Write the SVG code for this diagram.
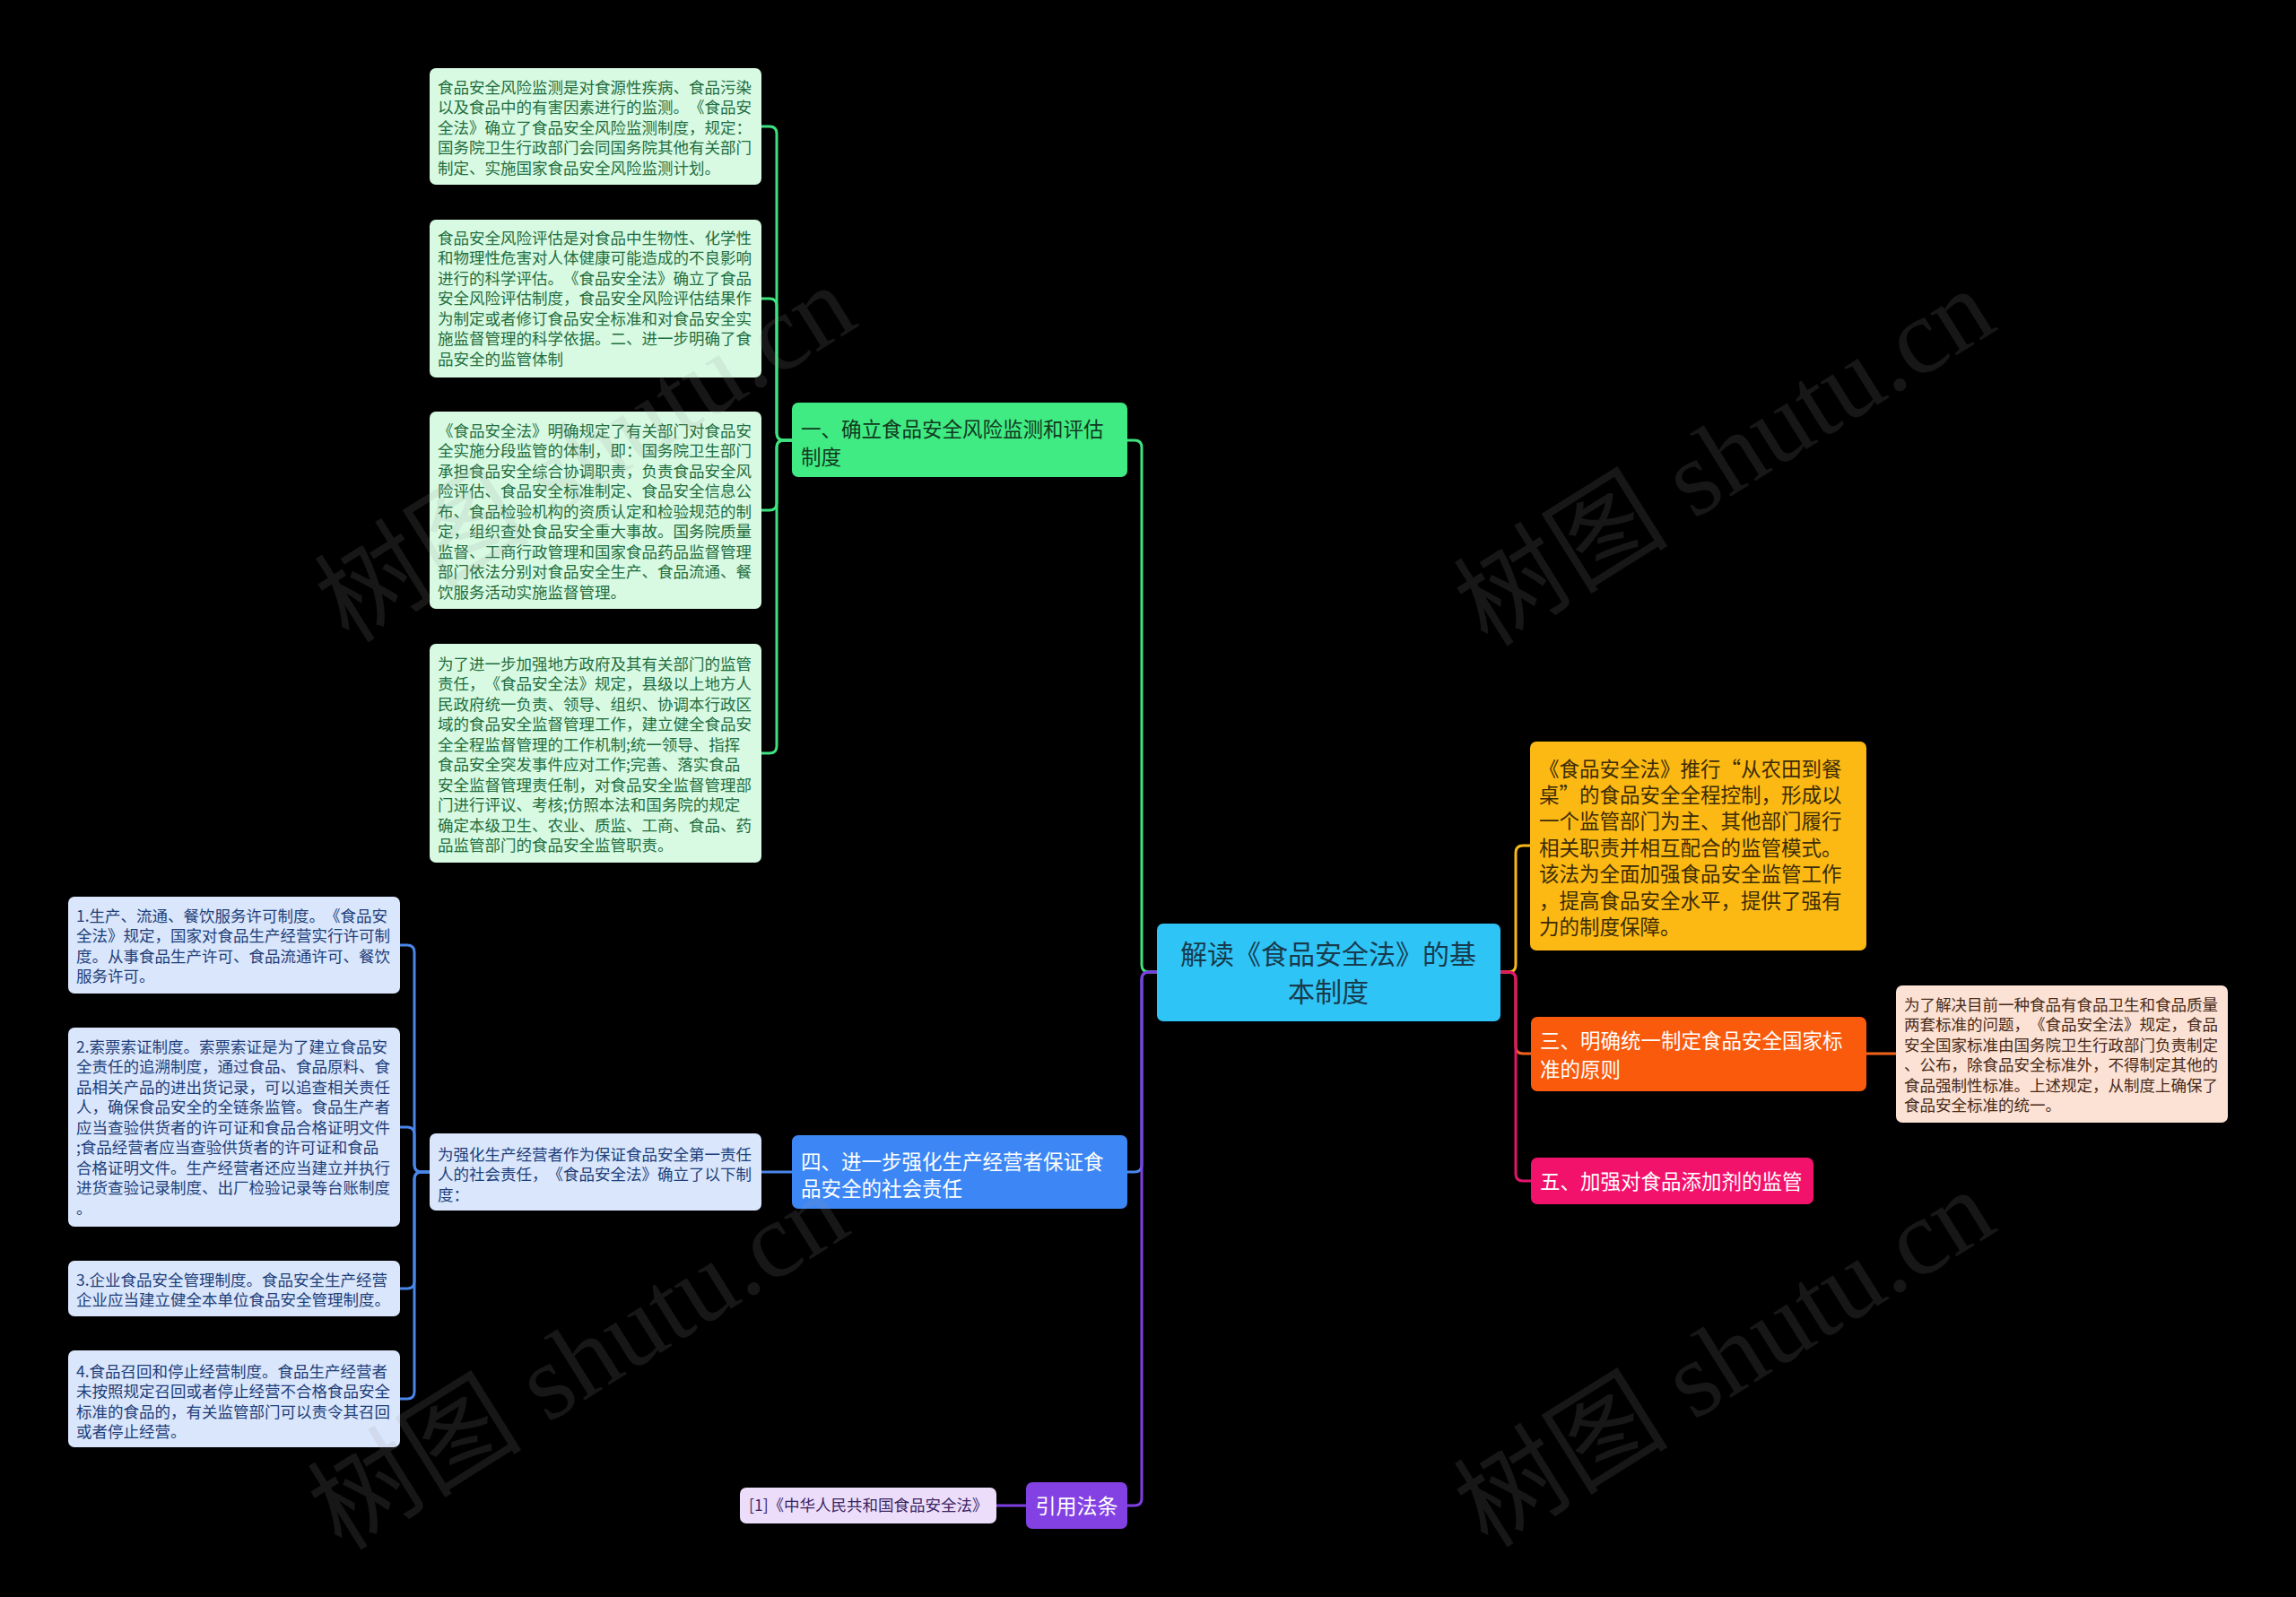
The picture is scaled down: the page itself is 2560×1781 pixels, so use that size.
<svg xmlns="http://www.w3.org/2000/svg" width="2560" height="1781" viewBox="0 0 2560 1781">
<style>
text{font-family:"Noto Sans CJK SC","Liberation Sans",sans-serif;dominant-baseline:central;text-spacing-trim:space-all}
.nt{transform:translate(0px,-1.5px)}
.s{font-size:17.5px}
.l1{font-size:22.5px}
.root{font-size:30px;fill:#173B4D}
.wm{font-family:"Liberation Serif","Noto Sans CJK SC",serif;font-size:120px;fill:#9a9a9a;opacity:0.15;text-anchor:middle}
.c{fill:none;stroke-width:3;stroke-linecap:round}
.cg{stroke:#3EE380}.cb{stroke:#4A86E8}.cp{stroke:#7E3FE0}.cy{stroke:#F7B918}.co{stroke:#F2631C}.ck{stroke:#E2156C}
.gbox{fill:#D8FAE3}.gt{fill:#1F6E3E}
.bbox{fill:#DAE6FB}.bt{fill:#1D3E7A}
</style>
<rect width="2560" height="1781" fill="#000"/>
<g id="connectors">
<path class="c cg" d="M1290,1084 H1281 Q1273,1084 1273,1076 V499 Q1273,491 1265,491 H1257"/>
<path class="c cb" d="M1290,1084 H1281 Q1273,1084 1273,1092 V1299 Q1273,1307 1265,1307 H1257"/>
<path class="c cp" d="M1290,1084 H1281 Q1273,1084 1273,1092 V1671 Q1273,1679 1265,1679 H1257"/>
<path class="c cy" d="M1673,1084 H1682 Q1690,1084 1690,1076 V951 Q1690,943 1698,943 H1706"/>
<path class="c co" d="M1673,1084 H1682 Q1690,1084 1690,1092 V1167 Q1690,1175 1698,1175 H1707"/>
<path class="c ck" d="M1673,1084 H1682 Q1690,1084 1690,1092 V1309 Q1690,1317 1698,1317 H1707"/>
<path class="c cg" d="M883,491 H874 Q866,491 866,483 V149 Q866,141 858,141 H849"/>
<path class="c cg" d="M883,491 H874 Q866,491 866,483 V341 Q866,333 858,333 H849"/>
<path class="c cg" d="M883,491 H874 Q866,491 866,499 V561 Q866,569 858,569 H849"/>
<path class="c cg" d="M883,491 H874 Q866,491 866,499 V832 Q866,840 858,840 H849"/>
<path class="c cb" d="M883,1307 H849"/>
<path class="c cb" d="M479,1307 H470 Q462,1307 462,1299 V1062 Q462,1054 454,1054 H446"/>
<path class="c cb" d="M479,1307 H470 Q462,1307 462,1299 V1265 Q462,1257 454,1257 H446"/>
<path class="c cb" d="M479,1307 H470 Q462,1307 462,1315 V1429 Q462,1437 454,1437 H446"/>
<path class="c cb" d="M479,1307 H470 Q462,1307 462,1315 V1552 Q462,1560 454,1560 H446"/>
<path class="c co" d="M2081,1175 H2114"/>
<path class="c cp" d="M1144,1679 H1111"/>
</g>
<g id="root">
<rect x="1290" y="1030" width="383" height="109" rx="7" fill="#2FC4F6"/>
<text class="root nt" text-anchor="middle"><tspan x="1481" y="1063">解读《食品安全法》的基</tspan><tspan x="1481" y="1105">本制度</tspan></text>
</g>
<g id="n1">
<rect x="883" y="449" width="374" height="83" rx="7" fill="#3FEB82"/>
<text class="l1 nt" fill="#12391F"><tspan x="893" y="478">一、确立食品安全风险监测和评估</tspan><tspan x="893" y="509">制度</tspan></text>
</g>
<g id="n1a">
<rect class="gbox" x="479" y="76" width="370" height="130" rx="7"/>
<text class="s gt nt"><tspan x="488" y="97">食品安全风险监测是对食源性疾病、食品污染</tspan><tspan x="488" dy="22.5">以及食品中的有害因素进行的监测。《食品安</tspan><tspan x="488" dy="22.5">全法》确立了食品安全风险监测制度，规定：</tspan><tspan x="488" dy="22.5">国务院卫生行政部门会同国务院其他有关部门</tspan><tspan x="488" dy="22.5">制定、实施国家食品安全风险监测计划。</tspan></text>
</g>
<g id="n1b">
<rect class="gbox" x="479" y="245" width="370" height="176" rx="7"/>
<text class="s gt nt"><tspan x="488" y="265">食品安全风险评估是对食品中生物性、化学性</tspan><tspan x="488" dy="22.5">和物理性危害对人体健康可能造成的不良影响</tspan><tspan x="488" dy="22.5">进行的科学评估。《食品安全法》确立了食品</tspan><tspan x="488" dy="22.5">安全风险评估制度，食品安全风险评估结果作</tspan><tspan x="488" dy="22.5">为制定或者修订食品安全标准和对食品安全实</tspan><tspan x="488" dy="22.5">施监督管理的科学依据。二、进一步明确了食</tspan><tspan x="488" dy="22.5">品安全的监管体制</tspan></text>
</g>
<g id="n1c">
<rect class="gbox" x="479" y="459" width="370" height="220" rx="7"/>
<text class="s gt nt"><tspan x="488" y="480">《食品安全法》明确规定了有关部门对食品安</tspan><tspan x="488" dy="22.5">全实施分段监管的体制，即：国务院卫生部门</tspan><tspan x="488" dy="22.5">承担食品安全综合协调职责，负责食品安全风</tspan><tspan x="488" dy="22.5">险评估、食品安全标准制定、食品安全信息公</tspan><tspan x="488" dy="22.5">布、食品检验机构的资质认定和检验规范的制</tspan><tspan x="488" dy="22.5">定，组织查处食品安全重大事故。国务院质量</tspan><tspan x="488" dy="22.5">监督、工商行政管理和国家食品药品监督管理</tspan><tspan x="488" dy="22.5">部门依法分别对食品安全生产、食品流通、餐</tspan><tspan x="488" dy="22.5">饮服务活动实施监督管理。</tspan></text>
</g>
<g id="n1d">
<rect class="gbox" x="479" y="718" width="370" height="244" rx="7"/>
<text class="s gt nt"><tspan x="488" y="740">为了进一步加强地方政府及其有关部门的监管</tspan><tspan x="488" dy="22.5">责任，《食品安全法》规定，县级以上地方人</tspan><tspan x="488" dy="22.5">民政府统一负责、领导、组织、协调本行政区</tspan><tspan x="488" dy="22.5">域的食品安全监督管理工作，建立健全食品安</tspan><tspan x="488" dy="22.5">全全程监督管理的工作机制;统一领导、指挥</tspan><tspan x="488" dy="22.5">食品安全突发事件应对工作;完善、落实食品</tspan><tspan x="488" dy="22.5">安全监督管理责任制，对食品安全监督管理部</tspan><tspan x="488" dy="22.5">门进行评议、考核;仿照本法和国务院的规定</tspan><tspan x="488" dy="22.5">确定本级卫生、农业、质监、工商、食品、药</tspan><tspan x="488" dy="22.5">品监管部门的食品安全监管职责。</tspan></text>
</g>
<g id="n4">
<rect x="883" y="1266" width="374" height="82" rx="7" fill="#3C87F5"/>
<text class="l1 nt" fill="#fff"><tspan x="893" y="1295">四、进一步强化生产经营者保证食</tspan><tspan x="893" y="1325">品安全的社会责任</tspan></text>
</g>
<g id="n4a">
<rect class="bbox" x="479" y="1264" width="370" height="86" rx="7"/>
<text class="s bt nt"><tspan x="488" y="1287">为强化生产经营者作为保证食品安全第一责任</tspan><tspan x="488" dy="22.5">人的社会责任，《食品安全法》确立了以下制</tspan><tspan x="488" dy="22.5">度：</tspan></text>
</g>
<g id="n4b">
<rect class="bbox" x="76" y="1000" width="370" height="108" rx="7"/>
<text class="s bt nt"><tspan x="85" y="1021">1.生产、流通、餐饮服务许可制度。《食品安</tspan><tspan x="85" dy="22.5">全法》规定，国家对食品生产经营实行许可制</tspan><tspan x="85" dy="22.5">度。从事食品生产许可、食品流通许可、餐饮</tspan><tspan x="85" dy="22.5">服务许可。</tspan></text>
</g>
<g id="n4c">
<rect class="bbox" x="76" y="1146" width="370" height="222" rx="7"/>
<text class="s bt nt"><tspan x="85" y="1167">2.索票索证制度。索票索证是为了建立食品安</tspan><tspan x="85" dy="22.5">全责任的追溯制度，通过食品、食品原料、食</tspan><tspan x="85" dy="22.5">品相关产品的进出货记录，可以追查相关责任</tspan><tspan x="85" dy="22.5">人，确保食品安全的全链条监管。食品生产者</tspan><tspan x="85" dy="22.5">应当查验供货者的许可证和食品合格证明文件</tspan><tspan x="85" dy="22.5">;食品经营者应当查验供货者的许可证和食品</tspan><tspan x="85" dy="22.5">合格证明文件。生产经营者还应当建立并执行</tspan><tspan x="85" dy="22.5">进货查验记录制度、出厂检验记录等台账制度</tspan><tspan x="85" dy="22.5">。</tspan></text>
</g>
<g id="n4d">
<rect class="bbox" x="76" y="1406" width="370" height="62" rx="7"/>
<text class="s bt nt"><tspan x="85" y="1427">3.企业食品安全管理制度。食品安全生产经营</tspan><tspan x="85" dy="22.5">企业应当建立健全本单位食品安全管理制度。</tspan></text>
</g>
<g id="n4e">
<rect class="bbox" x="76" y="1506" width="370" height="108" rx="7"/>
<text class="s bt nt"><tspan x="85" y="1529">4.食品召回和停止经营制度。食品生产经营者</tspan><tspan x="85" dy="22.5">未按照规定召回或者停止经营不合格食品安全</tspan><tspan x="85" dy="22.5">标准的食品的，有关监管部门可以责令其召回</tspan><tspan x="85" dy="22.5">或者停止经营。</tspan></text>
</g>
<g id="nref">
<rect x="1144" y="1653" width="113" height="52" rx="7" fill="#8341E4"/>
<text class="nt" x="1200.5" y="1679" font-size="23" fill="#fff" text-anchor="middle">引用法条</text>
</g>
<g id="nref1">
<rect x="825" y="1659" width="286" height="40" rx="7" fill="#ECDDFB"/>
<text class="s nt" x="835" y="1679" fill="#3B2461">[1]《中华人民共和国食品安全法》</text>
</g>
<g id="n2">
<rect x="1706" y="827" width="375" height="233" rx="7" fill="#FDB913"/>
<text class="l1 nt" fill="#3B2C05"><tspan x="1716" y="857">《食品安全法》推行“从农田到餐</tspan><tspan x="1716" dy="29.4">桌”的食品安全全程控制，形成以</tspan><tspan x="1716" dy="29.4">一个监管部门为主、其他部门履行</tspan><tspan x="1716" dy="29.4">相关职责并相互配合的监管模式。</tspan><tspan x="1716" dy="29.4">该法为全面加强食品安全监管工作</tspan><tspan x="1716" dy="29.4">，提高食品安全水平，提供了强有</tspan><tspan x="1716" dy="29.4">力的制度保障。</tspan></text>
</g>
<g id="n3">
<rect x="1707" y="1134" width="374" height="83" rx="7" fill="#FA5A0C"/>
<text class="l1 nt" fill="#fff"><tspan x="1717" y="1160">三、明确统一制定食品安全国家标</tspan><tspan x="1717" y="1192">准的原则</tspan></text>
</g>
<g id="n3a">
<rect x="2114" y="1099" width="370" height="153" rx="7" fill="#FBE2D5"/>
<text class="s nt" fill="#4A2A18"><tspan x="2123" y="1120">为了解决目前一种食品有食品卫生和食品质量</tspan><tspan x="2123" dy="22.5">两套标准的问题，《食品安全法》规定，食品</tspan><tspan x="2123" dy="22.5">安全国家标准由国务院卫生行政部门负责制定</tspan><tspan x="2123" dy="22.5">、公布，除食品安全标准外，不得制定其他的</tspan><tspan x="2123" dy="22.5">食品强制性标准。上述规定，从制度上确保了</tspan><tspan x="2123" dy="22.5">食品安全标准的统一。</tspan></text>
</g>
<g id="n5">
<rect x="1707" y="1291" width="315" height="52" rx="7" fill="#F2126C"/>
<text class="l1 nt" x="1717" y="1317" fill="#fff">五、加强对食品添加剂的监管</text>
</g>
<g id="watermarks">
<text class="wm" transform="translate(653,506) rotate(-32)">树图 shutu.cn</text>
<text class="wm" transform="translate(1923,510) rotate(-32)">树图 shutu.cn</text>
<text class="wm" transform="translate(645,1518) rotate(-32)">树图 shutu.cn</text>
<text class="wm" transform="translate(1923,1515) rotate(-32)">树图 shutu.cn</text>
</g>
</svg>
